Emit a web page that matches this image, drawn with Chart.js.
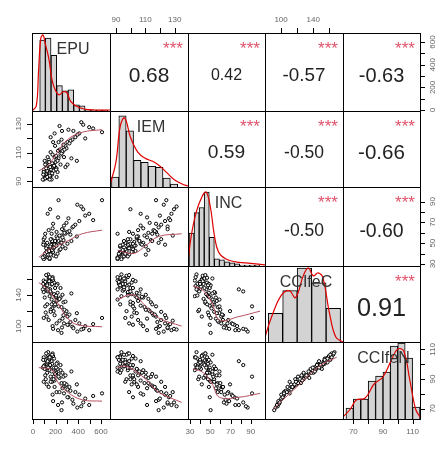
<!DOCTYPE html>
<html><head><meta charset="utf-8">
<script src="https://cdn.jsdelivr.net/npm/chart.js@4"></script>
<style>
body{margin:0;background:#fff;font-family:"Liberation Sans",Arial,sans-serif}
#wrap{position:relative;width:446px;height:455px}
canvas.p{position:absolute}
#ov{position:absolute;left:0;top:0;pointer-events:none}
.t{position:absolute;transform:translate(-50%,-50%);white-space:nowrap;color:#222}
</style></head>
<body><div id="wrap"><canvas id="ov" width="446" height="455"></canvas></div>
<script>
// variables and their plotting ranges
const names = ["EPU", "IEM", "INC", "CCIfeC", "CCIfeN"];
const ranges = [[-8, 680], [86, 139], [28, 104], [80, 177], [63, 115]];
const corr = [[null, 0.68, 0.42, -0.57, -0.63], [null, null, 0.59, -0.50, -0.66], [null, null, null, -0.50, -0.60], [null, null, null, null, 0.91]];

// observations: EPU, IEM, INC, CCIfeC, CCIfeN
const obs = [
  [85,92,35,160,104],[110,90,38,165,108],[95,89,33,158,106],[130,94,40,162,103],[70,91,31,155,101],
  [150,96,42,168,110],[120,93,36,150,100],[60,88,30,163,107],[140,97,45,157,104],[100,95,39,170,109],
  [175,98,47,152,99],[90,92,34,148,102],[115,94,41,166,105],[80,90,37,154,98],[165,99,44,160,106],
  [135,96,46,145,97],[105,91,32,172,111],[125,93,43,150,101],[155,100,38,164,108],[95,95,48,156,103],
  [75,89,36,161,105],[145,92,40,158,102],[65,93,33,153,100],[125,90,44,167,107],[105,97,35,147,99],
  [180,102,45,140,96],[210,105,50,135,94],[160,100,42,130,92],[230,108,48,138,97],[140,98,52,128,90],
  [250,110,44,142,95],[190,104,55,133,93],[170,106,47,126,89],[220,112,40,136,91],[200,103,53,145,98],
  [145,101,49,122,88],[260,114,51,131,92],[185,107,46,139,95],[240,109,56,124,87],[165,99,43,143,99],
  [300,118,60,110,82],[420,125,72,100,78],[350,120,65,95,74],[280,115,58,115,85],[520,130,80,90,70],
  [380,122,68,105,80],[310,128,75,98,76],[460,132,85,92,72],[260,116,62,112,84],[400,124,90,88,68],
  [650,126,95,108,79],[330,119,57,102,81],[290,113,70,118,86],[480,121,78,96,75],[360,127,66,93,71],
  [250,111,54,107,83],[440,134,88,91,69],[320,117,61,113,84],[560,129,73,99,77],[270,112,59,120,87],
  [50,88,32,150,99],[120,91,30,140,97],[160,95,34,118,90],[90,99,38,110,86],[200,94,36,158,103],
  [60,96,52,146,100],[140,88,58,135,96],[110,104,62,105,84],[80,101,45,116,90],[230,100,41,152,101],
  [190,97,60,100,80],[130,110,35,120,92],[70,103,54,138,98],[240,120,48,86,66],[150,108,64,96,78],
  [175,115,50,128,94],[100,106,80,150,104],[125,98,85,147,101],[210,118,95,125,92],[60,94,48,108,88],
  [280,98,42,132,93],[340,105,50,144,96],[170,125,46,112,84],[220,131,56,104,80],[95,90,44,128,95],
  [145,93,50,166,109],[115,102,39,162,106],[85,97,42,171,110],[55,92,46,158,105],[185,96,33,141,99],
  [120,88,31,168,107],[205,111,76,90,70],[265,106,67,100,79],[395,103,55,115,86],[300,100,47,98,76],
  [155,118,69,92,73],[130,122,52,117,88],[75,100,58,125,93],[245,127,63,94,72],[190,90,45,156,102]
];

// histograms: first bin start, bin width, bar heights
const histStart = [60, 87, 29, 84, 65];
const histWidth = [50, 5, 5, 18, 5];
const histCounts = [
  [70, 72, 55, 25, 20, 21, 6, 5, 1, 1, 1, 1],
  [10, 72, 57, 27, 25, 21, 20, 9, 3],
  [32, 52, 57, 72, 28, 7, 6, 4, 3, 2, 1, 1, 1, 1],
  [29, 52, 75, 60, 34],
  [11, 20, 20, 38, 43, 47, 73, 76, 61, 12]
];
// density curves [x, y]
const dens = [
  [[-8,0],[30,5],[50,40],[70,72],[90,75],[110,66],[140,52],[170,30],[200,20],[230,16],[270,19],[300,18],[330,10],[380,5],[450,2],[550,1],[680,1]],
  [[86,2],[90,25],[93,62],[96,70],[100,50],[105,35],[110,29],[115,26],[120,21],[125,14],[130,7],[135,3],[139,1]],
  [[28,3],[31,28],[36,52],[42,68],[46,72],[50,58],[54,30],[58,14],[65,7],[75,4],[85,3],[95,2],[104,1]],
  [[80,5],[88,25],[100,47],[110,52],[118,45],[128,68],[134,75],[140,67],[146,70],[152,65],[160,30],[168,5],[177,0]],
  [[63,2],[68,10],[72,19],[78,21],[84,35],[90,42],[96,60],[100,70],[104,68],[108,40],[112,10],[115,2]]
];
// smoothed lines for lower panels, key "row,col"
const smooth = {
  "1,0": [[10,95],[100,99],[200,110],[300,120],[450,126],[650,128]],
  "2,0": [[10,32],[100,40],[200,45],[300,50],[450,58],[650,62]],
  "2,1": [[88,40],[95,37],[102,37],[110,45],[120,55],[138,58]],
  "3,0": [[10,160],[100,150],[200,130],[300,108],[400,98],[650,95]],
  "3,1": [[88,135],[100,142],[110,125],[120,108],[138,96]],
  "3,2": [[28,155],[40,148],[50,128],[58,105],[80,110],[104,118]],
  "4,0": [[10,99],[150,97],[200,88],[300,80],[450,74],[650,73]],
  "4,1": [[88,99],[95,100],[110,90],[120,80],[138,72]],
  "4,2": [[28,98],[40,95],[50,86],[58,76],[80,76],[104,79]],
  "4,3": [[85,67],[120,85],[150,100],[175,107]]
};
// outer axis ticks: [var, side, marks, labels]
const axes = [
  [1, "top", [90,100,110,120,130], [90,110,130]],
  [3, "top", [100,120,140,160], [100,140]],
  [0, "right", [0,100,200,300,400,500,600], [0,200,400,600]],
  [2, "right", [30,40,50,60,70,80,90], [30,50,70,90]],
  [4, "right", [70,80,90,100,110], [70,90,110]],
  [1, "left", [90,100,110,120,130], [90,110,130]],
  [3, "left", [100,120,140,160], [100,140]],
  [0, "bottom", [0,100,200,300,400,500,600], [0,200,400,600]],
  [2, "bottom", [30,40,50,60,70,80,90], [30,50,70,90]],
  [4, "bottom", [70,80,90,100,110], [70,90,110]]
];

const PX = [32, 110, 188, 265, 343, 420];
const PY = [33, 111, 187, 266, 342, 419];
const wrap = document.getElementById("wrap");
const charts = {};

function scalesFor(xr, yr) {
  return {
    x: { type: "linear", min: xr[0], max: xr[1], display: false, offset: false },
    y: { type: "linear", min: yr[0], max: yr[1], display: false }
  };
}

function addText(txt, x, y, size, color) {
  const d = document.createElement("div");
  d.className = "t";
  d.textContent = txt;
  d.style.left = x + "px";
  d.style.top = y + "px";
  d.style.fontSize = size + "px";
  if (color) d.style.color = color;
  wrap.appendChild(d);
}

for (let r = 0; r < 5; r++) {
  for (let c = 0; c < 5; c++) {
    const x0 = PX[c], y0 = PY[r], w = PX[c + 1] - x0, h = PY[r + 1] - y0;
    if (c > r) {
      const v = corr[r][c];
      const a = Math.abs(v);
      addText(v.toFixed(2), x0 + w / 2, y0 + h / 2 + 3, 8 + a * 19);
      addText("***", x0 + w - 15, y0 + 16, 17, "#DF536B");
      continue;
    }
    const cv = document.createElement("canvas");
    cv.className = "p";
    cv.style.left = x0 + "px"; cv.style.top = y0 + "px";
    cv.style.width = w + "px"; cv.style.height = h + "px";
    cv.width = w; cv.height = h;
    wrap.insertBefore(cv, document.getElementById("ov"));
    let cfg;
    if (r === c) {
      const bars = histCounts[r].map((n, i) => ({ x: histStart[r] + histWidth[r] * (i + 0.5), y: n }));
      const thick = histWidth[r] / (ranges[r][1] - ranges[r][0]) * w;
      cfg = {
        type: "bar",
        data: { datasets: [
          { type: "line", data: dens[r].map(p => ({ x: p[0], y: p[1] })), borderColor: "#e00000", borderWidth: 1.2, pointRadius: 0, tension: 0.4, order: 0 },
          { data: bars, backgroundColor: "#d3d3d3", borderColor: "#000", borderWidth: 1, barThickness: thick, order: 1 }
        ] },
        options: { scales: scalesFor(ranges[r], [0, 77]) }
      };
      addText(names[r], x0 + w / 2 + 2, y0 + 16, 16, "#333");
    } else {
      const pts = obs.map(o => ({ x: o[c], y: o[r] }));
      cfg = {
        type: "scatter",
        data: { datasets: [
          { type: "line", data: smooth[r + "," + c].map(p => ({ x: p[0], y: p[1] })), borderColor: "#b5505e", borderWidth: 1, pointRadius: 0, tension: 0.4, order: 0 },
          { data: pts, pointRadius: 1.6, borderColor: "#000", backgroundColor: "#fff", borderWidth: 1, order: 1 }
        ] },
        options: { scales: scalesFor(ranges[c], ranges[r]) }
      };
    }
    cfg.options.responsive = false;
    cfg.options.animation = false;
    cfg.options.devicePixelRatio = 1;
    cfg.options.layout = { padding: 0 };
    cfg.options.plugins = { legend: { display: false }, tooltip: { enabled: false } };
    charts[r + "," + c] = new Chart(cv, cfg);
  }
}

// borders and outer axes on overlay
const ov = document.getElementById("ov").getContext("2d");
ov.strokeStyle = "#000"; ov.lineWidth = 1;
for (let r = 0; r < 5; r++) for (let c = 0; c < 5; c++)
  ov.strokeRect(PX[c] + 0.5, PY[r] + 0.5, PX[c + 1] - PX[c], PY[r + 1] - PY[r]);

ov.fillStyle = "#666"; ov.font = "8px 'Liberation Sans', Arial";
ov.textAlign = "center"; ov.textBaseline = "middle";
axes.forEach(([v, side, marks, labels]) => {
  const ch = charts[v + "," + v];
  const horiz = side === "top" || side === "bottom";
  const pos = val => horiz ? PX[v] + ch.scales.x.getPixelForValue(val)
                           : PY[v] + (PY[v + 1] - PY[v]) * (1 - (val - ranges[v][0]) / (ranges[v][1] - ranges[v][0]));
  const edge = side === "top" ? PY[0] : side === "bottom" ? PY[5] : side === "left" ? PX[0] : PX[5];
  const dir = side === "top" || side === "left" ? -1 : 1;
  ov.beginPath();
  const lo = pos(marks[0]), hi = pos(marks[marks.length - 1]);
  if (horiz) { ov.moveTo(lo, edge + 0.5); ov.lineTo(hi, edge + 0.5); }
  else { ov.moveTo(edge + 0.5, lo); ov.lineTo(edge + 0.5, hi); }
  marks.forEach(m => {
    const p = Math.round(pos(m)) + 0.5;
    if (horiz) { ov.moveTo(p, edge); ov.lineTo(p, edge + dir * 5); }
    else { ov.moveTo(edge, p); ov.lineTo(edge + dir * 5, p); }
  });
  ov.stroke();
  labels.forEach(l => {
    const p = pos(l);
    if (horiz) ov.fillText(String(l), p, edge + dir * 13);
    else {
      ov.save(); ov.translate(edge + dir * 13, p); ov.rotate(-Math.PI / 2);
      ov.fillText(String(l), 0, 0); ov.restore();
    }
  });
});
</script></body></html>
